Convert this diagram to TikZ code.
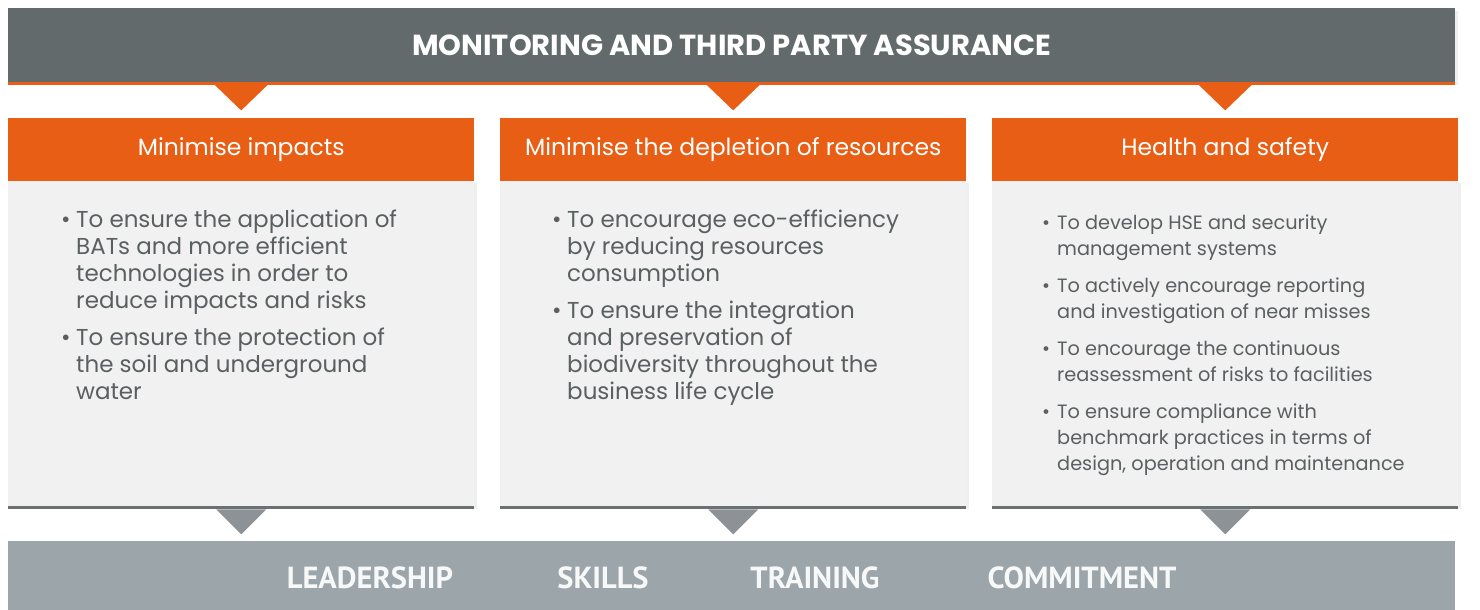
\documentclass[tikz,border=0pt]{standalone}
\usepackage{fontspec}
\setmainfont{Poppins}
\newfontfamily\basefont{PT Sans}
\usetikzlibrary{positioning,shadows}

\definecolor{topgray}{HTML}{636A6B}
\definecolor{brandorange}{HTML}{E85E14}
\definecolor{basegray}{HTML}{9BA5AA}
\definecolor{panelgray}{HTML}{F1F1F1}
\definecolor{linegray}{HTML}{6B7071}
\definecolor{tipgray}{HTML}{8C9295}
\definecolor{bodytext}{HTML}{5A5F61}

% one bullet with its own (already broken) lines
\newcommand{\bul}[1]{\makebox[15pt][l]{\textbullet}\begin{tabular}[t]{@{}l@{}}#1\end{tabular}}

\begin{document}
\begin{tikzpicture}[x=1pt,y=-1pt,
  topbar/.style={fill=topgray, text=white, minimum width=1447pt, minimum height=74pt,
    anchor=north west, inner sep=0pt, drop shadow={opacity=0.12, shadow xshift=3pt, shadow yshift=-3pt},
    font=\fontsize{29}{29}\selectfont\bfseries},
  headbox/.style={fill=brandorange, text=white, minimum width=466pt, minimum height=63pt,
    anchor=north west, inner sep=0pt, font=\fontsize{23.5}{23.5}\selectfont},
  panel/.style={fill=panelgray, minimum width=466pt, minimum height=326pt,
    anchor=north west, inner sep=0pt, drop shadow={opacity=0.12, shadow xshift=3pt, shadow yshift=-2pt}},
  bullets/.style={align=left, inner sep=0pt, text=bodytext, font=\fontsize{23}{27}\selectfont},
  basebar/.style={fill=basegray, minimum width=1447pt, minimum height=69pt,
    anchor=north west, inner sep=0pt},
  baselabel/.style={text=white!92!basegray, inner sep=0pt, font=\basefont\bfseries\fontsize{30.5}{30.5}\selectfont}
]
  \useasboundingbox[fill=white] (0,0) rectangle (1480,610);

  % Top bar
  \node[topbar] (monitor) at (8,8) {MONITORING AND THIRD PARTY ASSURANCE};
  \fill[brandorange] (monitor.south west) rectangle ++(1447,3);

  % Column headers
  \node[headbox] (h1) at (8,118) {Minimise impacts};
  \node[headbox] (h2) at (500,118) {Minimise the depletion of resources};
  \node[headbox] (h3) at (992,118) {Health and safety};

  % Orange tips under the top bar
  \foreach \h in {h1,h2,h3}
    \fill[brandorange] (monitor.south -| \h.north) ++(-27,2) -- ++(54,0) -- ++(-27,26) -- cycle;

  % Panels
  \node[panel] (p1) at (8,181) {};
  \node[panel] (p2) at (500,181) {};
  \node[panel] (p3) at (992,181) {};

  \foreach \p in {p1,p2,p3} {
    \draw[linegray, line width=3pt] (\p.south west) -- (\p.south east);
    \fill[tipgray] (\p.south) ++(-25,2) -- ++(50,0) -- ++(-25,25) -- cycle;
  }

  % Panel texts
  \node[bullets, below right=27pt and 53pt of p1.north west] (t1) {%
    \bul{To ensure the application of\\BATs and more efficient\\technologies in order to\\reduce impacts and risks}\\[9pt]
    \bul{To ensure the protection of\\the soil and underground\\water}};
  \node[bullets, below right=27pt and 52pt of p2.north west] (t2) {%
    \bul{To encourage eco-efficiency\\by reducing resources\\consumption}\\[9pt]
    \bul{To ensure the integration\\and preservation of\\biodiversity throughout the\\business life cycle}};
  \node[bullets, below right=30pt and 50pt of p3.north west,
        font=\fontsize{19.3}{26}\selectfont] (t3) {%
    \bul{To develop HSE and security\\management systems}\\[10pt]
    \bul{To actively encourage reporting\\and investigation of near misses}\\[10pt]
    \bul{To encourage the continuous\\reassessment of risks to facilities}\\[10pt]
    \bul{To ensure compliance with\\benchmark practices in terms of\\design, operation and maintenance}};

  % Bottom bar
  \node[basebar] (base) at (8,541) {};
  \node[baselabel] (lead) at (370,578) {LEADERSHIP};
  \node[baselabel] (skill) at (603,578) {SKILLS};
  \node[baselabel] (train) at (815,578) {TRAINING};
  \node[baselabel] (commit) at (1082,578) {COMMITMENT};
\end{tikzpicture}
\end{document}
